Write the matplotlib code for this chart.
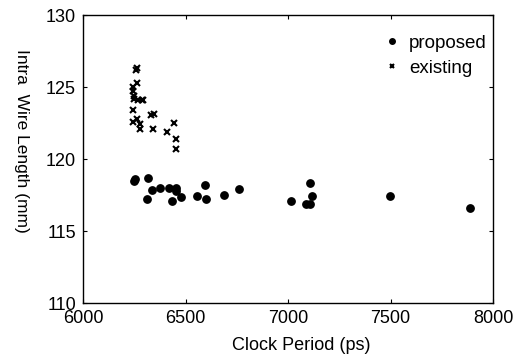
import matplotlib
matplotlib.use("Agg")
import matplotlib.pyplot as plt

plt.rcParams['font.family'] = ['Liberation Sans', 'DejaVu Sans']

# Data
proposed_x = [6248, 6252, 6315, 6337, 6378, 6420, 6453, 6453, 6310, 6436, 6480,
              6558, 6594, 6602, 6686, 6759, 7017, 7109, 7119, 7090, 7109, 7499, 7888]
proposed_y = [118.5, 118.6, 118.7, 117.85, 118.0, 118.0, 118.0, 117.8, 117.2, 117.1, 117.35,
              117.45, 118.2, 117.2, 117.5, 117.9, 117.1, 118.3, 117.4, 116.9, 116.9, 117.4, 116.6]

existing_x = [6258, 6262, 6264, 6245, 6245, 6250, 6250, 6269, 6286, 6293, 6245, 6331,
              6347, 6264, 6245, 6277, 6277, 6342, 6444, 6412, 6456, 6456]
existing_y = [126.2, 126.3, 125.3, 125.0, 124.7, 124.4, 124.2, 124.1, 124.1, 124.1, 123.4, 123.05,
              123.1, 122.8, 122.6, 122.4, 122.1, 122.1, 122.5, 121.9, 121.4, 120.7]

x_ticks = [6000, 6500, 7000, 7500, 8000]
y_ticks = [110, 115, 120, 125, 130]

fig = plt.figure(figsize=(5.23, 3.6), dpi=100)
ax = fig.add_axes([83/523, 1-303/360, (493-83)/523, (303-15)/360])

ax.plot(proposed_x, proposed_y, linestyle='none', marker='o', markersize=5.3,
        color='black', label='proposed')
ax.plot(existing_x, existing_y, linestyle='none', marker='x', markersize=4.5,
        markeredgewidth=1.5, color='black', label='existing')

ax.set_xlim(6000, 8000)
ax.set_ylim(110, 130)
ax.set_xticks(x_ticks)
ax.set_yticks(y_ticks)
ax.tick_params(direction='in', length=3, width=0.8, labelsize=13,
               top=True, right=True, pad=5)
for s in ax.spines.values():
    s.set_linewidth(1.0)

fig.text(301/523, 1-345/360, 'Clock Period (ps)', fontsize=13,
         ha='center', va='center')
fig.text(21/523, 1-141/360, 'Intra  Wire Length (mm)', rotation=-90,
         fontsize=12.5, ha='center', va='center')

leg = ax.legend(loc='upper right', bbox_to_anchor=(1.022, 0.983), frameon=False,
                fontsize=13.5, markerscale=0.75,
                handlelength=0.6, handletextpad=0.6, borderaxespad=0.4,
                labelspacing=0.4)

fig.savefig('out.png', dpi=100)
